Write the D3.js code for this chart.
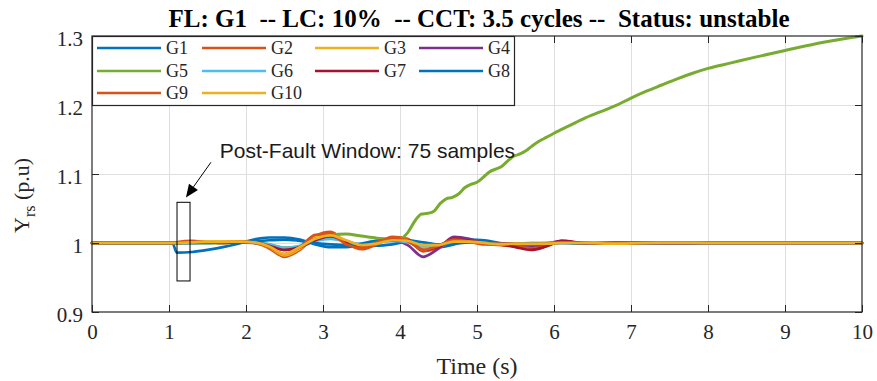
<!DOCTYPE html>
<html>
<head>
<meta charset="utf-8">
<script src="https://cdn.jsdelivr.net/npm/d3@7"></script>
<style>
  html, body { margin: 0; padding: 0; background: #fff; }
  svg { display: block; }
  text { white-space: pre; }
</style>
</head>
<body>
<svg id="chart" width="877" height="381"></svg>
<script>
// Rotor-speed style response of ten generators after a fault at G1
const titleText = "FL: G1  -- LC: 10%  -- CCT: 3.5 cycles --  Status: unstable";
const xTicks = [0, 1, 2, 3, 4, 5, 6, 7, 8, 9, 10];
const yTicks = [0.9, 1.0, 1.1, 1.2, 1.3];
const yTickLabels = ["0.9", "1", "1.1", "1.2", "1.3"];
const genNames = ["G1", "G2", "G3", "G4", "G5", "G6", "G7", "G8", "G9", "G10"];
const genColors = ["#0072BD", "#D95319", "#EDB120", "#7E2F8E", "#77AC30",
                   "#4DBEEE", "#A2142F", "#0072BD", "#D95319", "#EDB120"];

// shared sample instants (s) for the stable machines
const tKnots = [0, 1.0, 1.05, 1.1, 1.3, 1.5, 1.7, 1.9, 2.1, 2.3, 2.5, 2.7, 2.9, 3.1, 3.3, 3.5,
                3.7, 3.9, 4.1, 4.3, 4.5, 4.7, 4.9, 5.1, 5.3, 5.5, 5.7, 5.9, 6.1, 6.4, 6.8,
                7.2, 7.6, 8.0, 9.0, 10.0];

const g1 = [1, 1, 0.999, 0.986, 0.987, 0.990, 0.994, 0.999, 1.005, 1.008, 1.008, 1.005, 0.998, 0.994, 0.994, 0.997,
            0.996, 0.998, 1.002, 0.996, 0.994, 0.998, 1.005, 1.004, 1.000, 0.998, 0.998, 0.999, 1.000, 0.999, 1.000,
            1.000, 0.999, 1.000, 1.000, 1.000];
const g2 = [1, 1, 1.000, 1.001, 1.003, 1.001, 1.000, 1.002, 1.001, 0.992, 0.980, 0.990, 1.010, 1.016, 1.000, 0.991,
            0.998, 1.009, 1.006, 0.988, 0.993, 1.003, 1.004, 0.999, 0.997, 0.996, 0.993, 0.996, 1.002, 1.000, 0.999,
            1.000, 1.000, 1.000, 1.000, 1.000];
const g3 = [1, 1, 1.000, 1.000, 1.001, 1.002, 1.002, 1.002, 1.000, 0.994, 0.982, 0.992, 1.008, 1.012, 1.003, 0.995,
            1.000, 1.006, 1.004, 0.995, 0.996, 1.004, 1.003, 0.999, 0.998, 0.999, 0.998, 0.999, 1.001, 1.000, 1.000,
            1.000, 1.000, 1.000, 1.000, 1.000];
const g4 = [1, 1, 1.000, 1.000, 1.000, 1.001, 1.001, 1.001, 1.000, 0.996, 0.990, 0.995, 1.006, 1.008, 1.003, 0.997,
            1.002, 1.004, 0.997, 0.980, 0.992, 1.009, 1.006, 0.999, 0.998, 0.999, 0.996, 0.999, 1.003, 0.999, 1.001,
            1.000, 0.999, 1.000, 1.000, 1.000];
const g6 = [1, 1, 1.000, 1.000, 1.000, 1.001, 1.001, 1.001, 1.001, 0.998, 0.993, 0.996, 1.003, 1.006, 1.002, 0.998,
            1.001, 1.003, 1.001, 0.995, 0.997, 1.003, 1.002, 1.000, 0.999, 0.999, 0.999, 1.000, 1.001, 1.000, 1.000,
            1.000, 1.000, 1.000, 1.000, 1.000];
const g7 = [1, 1, 1.000, 1.000, 1.001, 1.001, 1.000, 1.001, 1.001, 0.996, 0.990, 0.994, 1.004, 1.010, 1.001, 0.995,
            1.000, 1.005, 1.003, 0.990, 0.995, 1.006, 1.003, 1.000, 0.998, 0.994, 0.990, 0.995, 1.003, 1.000, 0.999,
            1.000, 1.000, 1.000, 1.000, 1.000];
const g8 = [1, 1, 1.000, 1.000, 1.000, 1.000, 1.001, 1.001, 1.002, 1.004, 1.005, 1.003, 1.000, 0.998, 0.997, 0.999,
            1.003, 1.003, 1.004, 1.001, 0.998, 0.999, 1.001, 1.000, 0.999, 0.999, 1.000, 1.000, 1.000, 1.000, 1.000,
            1.000, 1.000, 1.000, 1.000, 1.000];
const g9 = [1, 1, 1.000, 1.001, 1.002, 1.001, 1.001, 1.002, 1.001, 0.994, 0.984, 0.994, 1.012, 1.013, 0.998, 0.993,
            1.001, 1.008, 1.003, 0.990, 0.996, 1.005, 1.002, 0.998, 0.999, 0.999, 0.998, 0.999, 1.001, 1.000, 1.000,
            1.000, 1.000, 1.000, 1.000, 1.000];
const g10 = [1, 1, 1.000, 1.000, 1.001, 1.002, 1.002, 1.002, 1.001, 0.995, 0.984, 0.994, 1.006, 1.011, 1.004, 0.997,
             0.999, 1.004, 1.003, 0.997, 0.997, 1.002, 1.002, 1.000, 0.998, 0.999, 0.999, 0.999, 1.000, 1.000, 0.999,
             1.000, 1.000, 1.000, 1.000, 1.000];

// G5 loses synchronism: its own, denser sample instants
const tG5 = [0, 1.0, 1.1, 1.5, 2.0, 2.3, 2.5, 2.7, 2.9, 3.1, 3.3, 3.5, 3.7, 3.9, 4.0,
             4.10, 4.20, 4.28, 4.36, 4.44, 4.52, 4.60, 4.68, 4.76, 4.84, 4.92, 5.00, 5.08, 5.16,
             5.24, 5.32, 5.40, 5.48, 5.56, 5.64, 5.72, 5.80, 5.90, 6.00, 6.2, 6.4, 6.6, 6.8,
             7.0, 7.2, 7.4, 7.6, 7.8, 8.0, 8.3, 8.6, 9.0, 9.5, 10.0];
const g5 = [1, 1, 1.000, 1.000, 1.001, 0.998, 0.993, 0.995, 1.004, 1.011, 1.013, 1.010, 1.007, 1.006, 1.006,
            1.015, 1.033, 1.042, 1.043, 1.046, 1.057, 1.064, 1.066, 1.071, 1.080, 1.085, 1.088, 1.095, 1.103,
            1.107, 1.111, 1.119, 1.126, 1.129, 1.134, 1.141, 1.147, 1.153, 1.159, 1.170, 1.181, 1.190, 1.199,
            1.210, 1.220, 1.229, 1.238, 1.246, 1.253, 1.261, 1.269, 1.279, 1.291, 1.300];

// post-fault window marker (time span and value span) and its annotation
const windowT = [1.104, 1.273];
const windowV = [0.945, 1.059];
const noteText = "Post-Fault Window: 75 samples";
const noteAt = [1.66, 1.123];
const arrowFrom = [1.545, 1.117];
const arrowTo = [1.22, 1.066];

const series = [
  {t: tKnots, v: g1}, {t: tKnots, v: g2}, {t: tKnots, v: g3}, {t: tKnots, v: g4},
  {t: tG5, v: g5}, {t: tKnots, v: g6}, {t: tKnots, v: g7}, {t: tKnots, v: g8},
  {t: tKnots, v: g9}, {t: tKnots, v: g10}
].map((s, i) => ({name: genNames[i], color: genColors[i],
                  pts: s.t.map((t, k) => [t, s.v[k]])}));

const svg = d3.select("#chart");
const margin = {left: 92, right: 15, top: 36, bottom: 69};
const W = 877, H = 381;
const x = d3.scaleLinear().domain([0, 10]).range([margin.left, W - margin.right]);
const y = d3.scaleLinear().domain([0.9, 1.3]).range([H - margin.bottom, margin.top]);
const axisColor = "#262626";
const serif = "'Liberation Serif', 'Times New Roman', serif";
const sans = "'Liberation Sans', Arial, sans-serif";

// grid
const grid = svg.append("g").attr("stroke", "#dfdfdf").attr("stroke-width", 1);
grid.selectAll("line.gx").data(xTicks.slice(1, -1)).join("line")
  .attr("x1", d => Math.round(x(d)) + 0.5).attr("x2", d => Math.round(x(d)) + 0.5)
  .attr("y1", y(0.9)).attr("y2", y(1.3));
grid.selectAll("line.gy").data(yTicks.slice(1, -1)).join("line")
  .attr("y1", d => Math.round(y(d)) + 0.5).attr("y2", d => Math.round(y(d)) + 0.5)
  .attr("x1", x(0)).attr("x2", x(10));

// traces
const line = d3.line().x(d => x(d[0])).y(d => y(d[1])).curve(d3.curveMonotoneX);
svg.append("g").selectAll("path").data(series).join("path")
  .attr("d", d => line(d.pts))
  .attr("fill", "none")
  .attr("stroke", d => d.color)
  .attr("stroke-width", d => d.name === "G5" ? 3 : 2.7)
  .attr("stroke-linejoin", "round")
  .attr("stroke-linecap", "round");

// axes with inward ticks on all sides
const tickLen = 7;
const axFont = g => g.attr("font-family", serif).attr("font-size", 21).attr("fill", axisColor);
const xb = svg.append("g").attr("transform", `translate(0,${y(0.9)})`)
  .call(d3.axisBottom(x).tickValues(xTicks).tickSize(-tickLen).tickPadding(12).tickFormat(d3.format("d")));
const xt = svg.append("g").attr("transform", `translate(0,${y(1.3)})`)
  .call(d3.axisTop(x).tickValues(xTicks).tickSize(-tickLen).tickFormat(""));
const yl = svg.append("g").attr("transform", `translate(${x(0)},0)`)
  .call(d3.axisLeft(y).tickValues(yTicks).tickSize(-tickLen).tickPadding(9)
    .tickFormat((d, i) => yTickLabels[i]));
const yr = svg.append("g").attr("transform", `translate(${x(10)},0)`)
  .call(d3.axisRight(y).tickValues(yTicks).tickSize(-tickLen).tickFormat(""));
[xb, xt, yl, yr].forEach(g => {
  g.select(".domain").remove();
  g.selectAll(".tick line").attr("stroke", axisColor);
  g.selectAll(".tick text").call(axFont);
});
yl.selectAll(".tick text").attr("dy", "0.45em");
svg.append("rect")
  .attr("x", x(0)).attr("y", y(1.3))
  .attr("width", x(10) - x(0)).attr("height", y(0.9) - y(1.3))
  .attr("fill", "none").attr("stroke", axisColor).attr("stroke-width", 1.2);

// title and axis labels
svg.append("text").attr("x", 479).attr("y", 27)
  .attr("text-anchor", "middle").attr("font-family", serif).attr("font-weight", "bold")
  .attr("font-size", 25).attr("fill", "#000").text(titleText);
svg.append("text").attr("x", (x(0) + x(10)) / 2).attr("y", 374)
  .attr("text-anchor", "middle").attr("font-family", serif)
  .attr("font-size", 24).attr("fill", axisColor).text("Time (s)");
const ylab = svg.append("text")
  .attr("transform", "translate(29,233) rotate(-90)")
  .attr("font-family", serif).attr("font-size", 22).attr("fill", axisColor);
ylab.append("tspan").text("Y");
ylab.append("tspan").attr("font-size", 16).attr("dy", 6).text("rs");
ylab.append("tspan").attr("dy", -6).text(" (p.u)");

// legend
const legend = svg.append("g");
legend.append("rect").attr("x", 92.5).attr("y", 36.5).attr("width", 422).attr("height", 69)
  .attr("fill", "#fff").attr("stroke", axisColor).attr("stroke-width", 1.2);
const colX = [97, 202, 315, 419];
const rowY = [48, 71, 93];
genNames.forEach((n, i) => {
  const cx = colX[i % 4], cy = rowY[Math.floor(i / 4)];
  legend.append("line").attr("x1", cx).attr("x2", cx + 64).attr("y1", cy).attr("y2", cy)
    .attr("stroke", genColors[i]).attr("stroke-width", 2.7);
  legend.append("text").attr("x", cx + 69).attr("y", cy).attr("dy", "0.35em")
    .attr("font-family", serif).attr("font-size", 18).attr("fill", axisColor).text(n);
});

// post-fault window box, arrow and note
svg.append("rect")
  .attr("x", x(windowT[0])).attr("y", y(windowV[1]))
  .attr("width", x(windowT[1]) - x(windowT[0])).attr("height", y(windowV[0]) - y(windowV[1]))
  .attr("fill", "none").attr("stroke", "#000").attr("stroke-width", 1);
const ax0 = x(arrowFrom[0]), ay0 = y(arrowFrom[1]), ax1 = x(arrowTo[0]), ay1 = y(arrowTo[1]);
const ang = Math.atan2(ay1 - ay0, ax1 - ax0);
const headL = 13, headW = 5.5;
const bx = ax1 - headL * Math.cos(ang), by = ay1 - headL * Math.sin(ang);
svg.append("line").attr("x1", ax0).attr("y1", ay0).attr("x2", bx).attr("y2", by)
  .attr("stroke", "#000").attr("stroke-width", 1);
svg.append("path")
  .attr("d", `M${ax1},${ay1}L${bx + headW * Math.sin(ang)},${by - headW * Math.cos(ang)}` +
             `L${bx - headW * Math.sin(ang)},${by + headW * Math.cos(ang)}Z`)
  .attr("fill", "#000");
svg.append("text").attr("x", x(noteAt[0])).attr("y", y(noteAt[1]))
  .attr("font-family", sans).attr("font-size", 21).attr("fill", "#1a1a1a").text(noteText);
</script>
</body>
</html>
